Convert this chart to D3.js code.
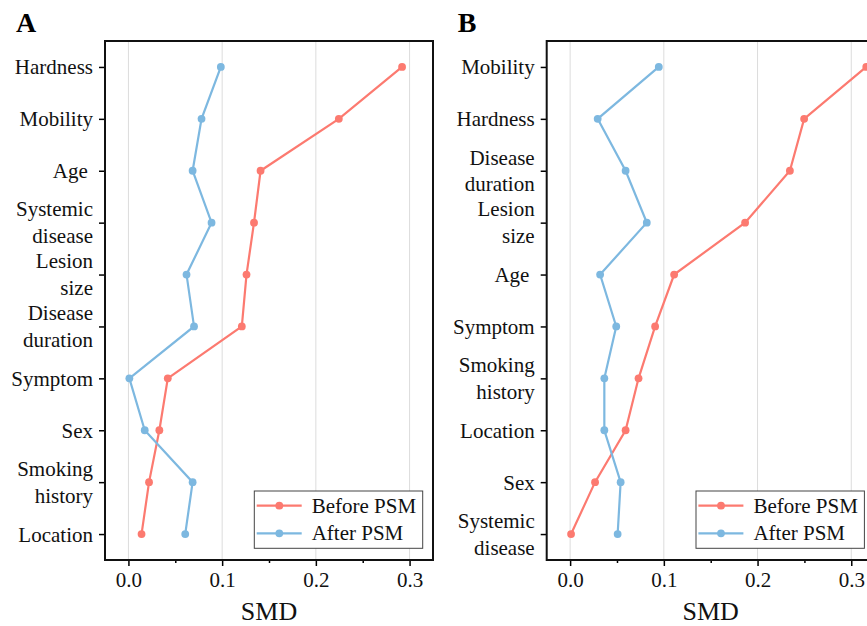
<!DOCTYPE html>
<html>
<head>
<meta charset="utf-8">
<script src="https://cdn.jsdelivr.net/npm/d3@7"></script>
<style>
  body { margin: 0; background: #fff; }
  svg { display: block; font-family: "Liberation Serif", "Times New Roman", serif; }
</style>
</head>
<body>
<div id="chart"></div>
<script>
// panel A
var catsA = ["Hardness", "Mobility", "Age ", "Systemic disease", "Lesion size", "Disease duration", "Symptom", "Sex", "Smoking history", "Location"];
var beforeA = [0.292, 0.2245, 0.141, 0.134, 0.126, 0.121, 0.042, 0.033, 0.022, 0.014];
var afterA  = [0.0986, 0.078, 0.0685, 0.0887, 0.062, 0.070, 0.001, 0.0174, 0.0685, 0.0606];

// panel B
var catsB = ["Mobility", "Hardness", "Disease duration", "Lesion size", "Age ", "Symptom", "Smoking history", "Location", "Sex", "Systemic disease"];
var beforeB = [0.316, 0.2497, 0.2345, 0.1867, 0.111, 0.0907, 0.073, 0.0592, 0.0266, 0.001];
var afterB  = [0.0946, 0.0294, 0.0592, 0.0818, 0.032, 0.0492, 0.0365, 0.0365, 0.0539, 0.0507];

var xTicks = [0, 0.1, 0.2, 0.3];
var xMinor = [0.05, 0.15, 0.25];
var seriesNames = ["Before PSM", "After PSM"];
var colors = ["#FC7A70", "#7DB8E0"];

var width = 867, height = 626;
var svg = d3.select("#chart").append("svg")
    .attr("width", width)
    .attr("height", height);

function drawPanel(left, letter, cats, before, after) {
  var top = 41, w = 328, h = 519;

  var x = d3.scaleLinear().domain([-0.025, 0.325]).range([left, left + w]);
  var y = d3.scalePoint().domain(cats).range([top, top + h]).padding(0.5);

  var g = svg.append("g");

  // grid
  g.selectAll(".grid").data(xTicks).enter().append("line")
      .attr("x1", function(d) { return x(d); })
      .attr("x2", function(d) { return x(d); })
      .attr("y1", top).attr("y2", top + h)
      .attr("stroke", "#dcdcdc").attr("stroke-width", 1);

  // x axis
  var xAxis = g.append("g")
      .attr("transform", "translate(0," + (top + h) + ")")
      .call(d3.axisBottom(x).tickValues(xTicks).tickFormat(d3.format(".1f")).tickSize(6).tickPadding(6));
  xAxis.select(".domain").remove();
  xAxis.selectAll("line").attr("stroke", "#000").attr("stroke-width", 1.5);
  xAxis.selectAll("text").attr("font-size", 21).attr("font-family", "Liberation Serif").attr("fill", "#111");

  var xMinorAxis = g.append("g")
      .attr("transform", "translate(0," + (top + h) + ")")
      .call(d3.axisBottom(x).tickValues(xMinor).tickFormat("").tickSize(3));
  xMinorAxis.select(".domain").remove();
  xMinorAxis.selectAll("line").attr("stroke", "#000").attr("stroke-width", 1.5);

  // y axis
  var yAxis = g.append("g")
      .attr("transform", "translate(" + left + ",0)")
      .call(d3.axisLeft(y).tickSize(6).tickPadding(6));
  yAxis.select(".domain").remove();
  yAxis.selectAll("line").attr("stroke", "#000").attr("stroke-width", 1.5);
  yAxis.selectAll("text").each(function(d) {
    var t = d3.select(this);
    t.text(null).attr("dy", null)
      .attr("font-size", 21).attr("font-family", "Liberation Serif").attr("fill", "#111")
      .style("white-space", "pre");
    var words = d.split(" ");
    if (words.length > 1 && words[1] !== "") {
      t.append("tspan").attr("x", -12).attr("y", -6.7).text(words[0]);
      t.append("tspan").attr("x", -12).attr("y", 20).text(words.slice(1).join(" "));
    } else {
      t.append("tspan").attr("x", -12).attr("y", 7).text(d);
    }
  });

  // lines
  var line = d3.line()
      .x(function(d) { return x(d.v); })
      .y(function(d) { return y(d.c); });

  [before, after].forEach(function(vals, i) {
    var pts = cats.map(function(c, j) { return { c: c, v: vals[j] }; });
    g.append("path").datum(pts)
        .attr("d", line)
        .attr("fill", "none")
        .attr("stroke", colors[i])
        .attr("stroke-width", 2.2);
    g.selectAll(".dot" + i).data(pts).enter().append("circle")
        .attr("cx", function(d) { return x(d.v); })
        .attr("cy", function(d) { return y(d.c); })
        .attr("r", 3.9)
        .attr("fill", colors[i]);
  });

  // frame
  g.append("rect")
      .attr("x", left).attr("y", top)
      .attr("width", w).attr("height", h)
      .attr("fill", "none")
      .attr("stroke", "#111")
      .attr("stroke-width", 2);

  // legend
  var lx = left + 149.3, ly = 491;
  var leg = g.append("g").attr("transform", "translate(" + lx + "," + ly + ")");
  leg.append("rect")
      .attr("width", 168.4).attr("height", 57.3)
      .attr("fill", "#fff").attr("stroke", "#444").attr("stroke-width", 1);
  seriesNames.forEach(function(name, i) {
    var ry = 14.7 + i * 27.6;
    leg.append("line")
        .attr("x1", 2.4).attr("x2", 47.4)
        .attr("y1", ry).attr("y2", ry)
        .attr("stroke", colors[i]).attr("stroke-width", 2.2);
    leg.append("circle")
        .attr("cx", 25).attr("cy", ry).attr("r", 3.9)
        .attr("fill", colors[i]);
    leg.append("text")
        .attr("x", 57.4).attr("y", ry + 7)
        .attr("font-size", 21).attr("fill", "#111")
        .text(name);
  });

  // axis title
  g.append("text")
      .attr("x", left + w / 2).attr("y", 620)
      .attr("text-anchor", "middle")
      .attr("font-size", 26).attr("fill", "#111")
      .text("SMD");

  // panel letter
  svg.append("text")
      .attr("x", left - 89).attr("y", 32)
      .attr("font-size", 28).attr("font-weight", "bold").attr("fill", "#000")
      .text(letter);
}

drawPanel(105, "A", catsA, beforeA, afterA);
drawPanel(546.7, "B", catsB, beforeB, afterB);
</script>
</body>
</html>
